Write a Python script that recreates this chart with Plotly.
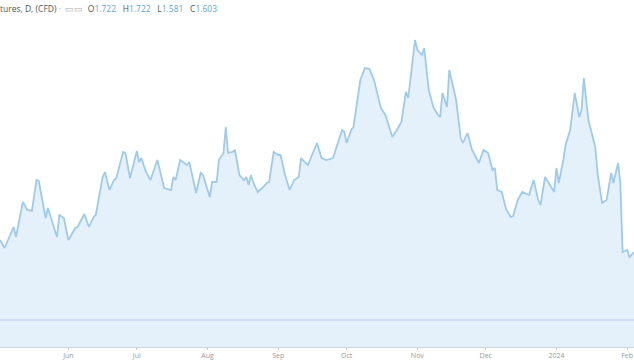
import plotly.graph_objects as go

dates = [
    "2023-05-02", "2023-05-04", "2023-05-08", "2023-05-09", "2023-05-12", "2023-05-14", "2023-05-16",
    "2023-05-18", "2023-05-19", "2023-05-22", "2023-05-23", "2023-05-27", "2023-05-28", "2023-05-30",
    "2023-06-01", "2023-06-04", "2023-06-05", "2023-06-08", "2023-06-10", "2023-06-12", "2023-06-13",
    "2023-06-16", "2023-06-17", "2023-06-19", "2023-06-21", "2023-06-22", "2023-06-25", "2023-06-26",
    "2023-06-28", "2023-07-01", "2023-07-02", "2023-07-03", "2023-07-05", "2023-07-07", "2023-07-10",
    "2023-07-12", "2023-07-13", "2023-07-16", "2023-07-17", "2023-07-18", "2023-07-20", "2023-07-23",
    "2023-07-24", "2023-07-27", "2023-07-29", "2023-07-30", "2023-08-02", "2023-08-03", "2023-08-05",
    "2023-08-06", "2023-08-08", "2023-08-09", "2023-08-10", "2023-08-12", "2023-08-13", "2023-08-15",
    "2023-08-17", "2023-08-18", "2023-08-19", "2023-08-20", "2023-08-21", "2023-08-23", "2023-08-25",
    "2023-08-27", "2023-08-28", "2023-08-30", "2023-09-01", "2023-09-02", "2023-09-04", "2023-09-06",
    "2023-09-08", "2023-09-10", "2023-09-11", "2023-09-13", "2023-09-14", "2023-09-18", "2023-09-20",
    "2023-09-22", "2023-09-25", "2023-09-29", "2023-09-30", "2023-10-01", "2023-10-03", "2023-10-04",
    "2023-10-07", "2023-10-09", "2023-10-11", "2023-10-13", "2023-10-16", "2023-10-18", "2023-10-21",
    "2023-10-23", "2023-10-25", "2023-10-27", "2023-10-28", "2023-10-31", "2023-11-01", "2023-11-03",
    "2023-11-04", "2023-11-06", "2023-11-08", "2023-11-10", "2023-11-11", "2023-11-12", "2023-11-14",
    "2023-11-15", "2023-11-18", "2023-11-20", "2023-11-21", "2023-11-23", "2023-11-25", "2023-11-28",
    "2023-11-30", "2023-12-02", "2023-12-04", "2023-12-05", "2023-12-06", "2023-12-08", "2023-12-10",
    "2023-12-12", "2023-12-13", "2023-12-15", "2023-12-17", "2023-12-20", "2023-12-22", "2023-12-24",
    "2023-12-25", "2023-12-27", "2023-12-31", "2024-01-01", "2024-01-02", "2024-01-04", "2024-01-05",
    "2024-01-07", "2024-01-09", "2024-01-11", "2024-01-12", "2024-01-13", "2024-01-15", "2024-01-17",
    "2024-01-18", "2024-01-19", "2024-01-21", "2024-01-23", "2024-01-25", "2024-01-26", "2024-01-28",
    "2024-01-29", "2024-01-30", "2024-02-01", "2024-02-02", "2024-02-04",
]

prices = [
    1.668, 1.628, 1.733, 1.683, 1.858, 1.818, 1.813,
    1.968, 1.963, 1.778, 1.828, 1.683, 1.793, 1.778,
    1.668, 1.728, 1.733, 1.798, 1.733, 1.783, 1.793,
    1.983, 2.008, 1.918, 1.968, 1.978, 2.108, 2.103,
    1.978, 2.113, 2.058, 2.078, 2.008, 1.968, 2.068,
    1.968, 1.928, 1.918, 1.983, 1.968, 2.068, 2.043,
    2.058, 1.903, 2.003, 1.993, 1.883, 1.958, 1.958,
    2.068, 2.103, 2.233, 2.103, 2.108, 2.118, 1.993,
    1.968, 1.983, 1.943, 1.993, 1.958, 1.908, 1.928,
    1.953, 1.958, 2.108, 2.093, 2.093, 1.993, 1.918,
    1.968, 1.983, 2.078, 2.053, 2.043, 2.153, 2.078,
    2.068, 2.078, 2.218, 2.208, 2.153, 2.218, 2.233,
    2.468, 2.528, 2.523, 2.468, 2.328, 2.293, 2.183,
    2.218, 2.258, 2.408, 2.378, 2.668, 2.618, 2.593,
    2.628, 2.418, 2.333, 2.293, 2.283, 2.403, 2.333,
    2.518, 2.368, 2.178, 2.153, 2.203, 2.118, 2.053,
    2.118, 2.103, 2.018, 2.028, 1.918, 1.908, 1.818,
    1.783, 1.788, 1.868, 1.908, 1.893, 1.968, 1.868,
    1.843, 1.983, 1.908, 2.028, 1.953, 2.068, 2.143,
    2.218, 2.403, 2.283, 2.318, 2.478, 2.268, 2.178,
    2.133, 2.003, 1.853, 1.868, 2.003, 1.953, 2.053,
    1.953, 1.608, 1.618, 1.583, 1.608,
]

ref_level = 1.268

tick_dates = ["2023-06-01", "2023-07-01", "2023-08-01", "2023-09-01", "2023-10-01",
              "2023-11-01", "2023-12-01", "2024-01-01", "2024-02-01"]
tick_labels = ["Jun", "Jul", "Aug", "Sep", "Oct", "Nov", "Dec", "2024", "Feb"]

x_range = ["2023-05-02", "2024-02-04"]
y_range = [1.133, 2.868]

fig = go.Figure()
fig.add_trace(go.Scatter(
    x=dates, y=prices, mode="lines",
    line=dict(color="#9ecbeb", width=1.8),
    fill="tozeroy", fillcolor="#e4f1fb",
    hoverinfo="skip",
))

fig.add_shape(type="line", xref="paper", x0=0, x1=1, yref="y", y0=ref_level, y1=ref_level,
              line=dict(color="#b8c8f2", width=1.2))

fig.update_layout(
    width=634, height=364,
    margin=dict(l=0, r=0, t=0, b=17),
    paper_bgcolor="white", plot_bgcolor="white",
    showlegend=False,
    xaxis=dict(
        type="date", range=x_range,
        tickvals=tick_dates, ticktext=tick_labels,
        tickfont=dict(family="Open Sans", size=7, color="#9a9a9a"),
        showgrid=False, zeroline=False,
        showline=True, linecolor="#cfd6dc", linewidth=1,
        ticks="outside", ticklen=2, tickcolor="#c8c8c8",
    ),
    yaxis=dict(range=y_range, visible=False),
)

sp = "&nbsp;&nbsp;&nbsp;"
title_html = ("<span style='color:#555'>tures, D, (CFD)</span>&nbsp;"
              "<span style='color:#aaa'>·&nbsp;&nbsp;▭▭</span>&nbsp;&nbsp;"
              "<span style='color:#555'>O</span><span style='color:#5aa6e0'>1.722</span>" + sp +
              "<span style='color:#555'>H</span><span style='color:#5aa6e0'>1.722</span>" + sp +
              "<span style='color:#555'>L</span><span style='color:#5aa6e0'>1.581</span>" + sp +
              "<span style='color:#555'>C</span><span style='color:#5aa6e0'>1.603</span>")
fig.add_annotation(xref="paper", yref="paper", x=0, y=1, xanchor="left", yanchor="top",
                   xshift=-2, yshift=-1, text=title_html, showarrow=False,
                   font=dict(family="Open Sans", size=8.5, color="#555"))

fig.write_html("out.html")
